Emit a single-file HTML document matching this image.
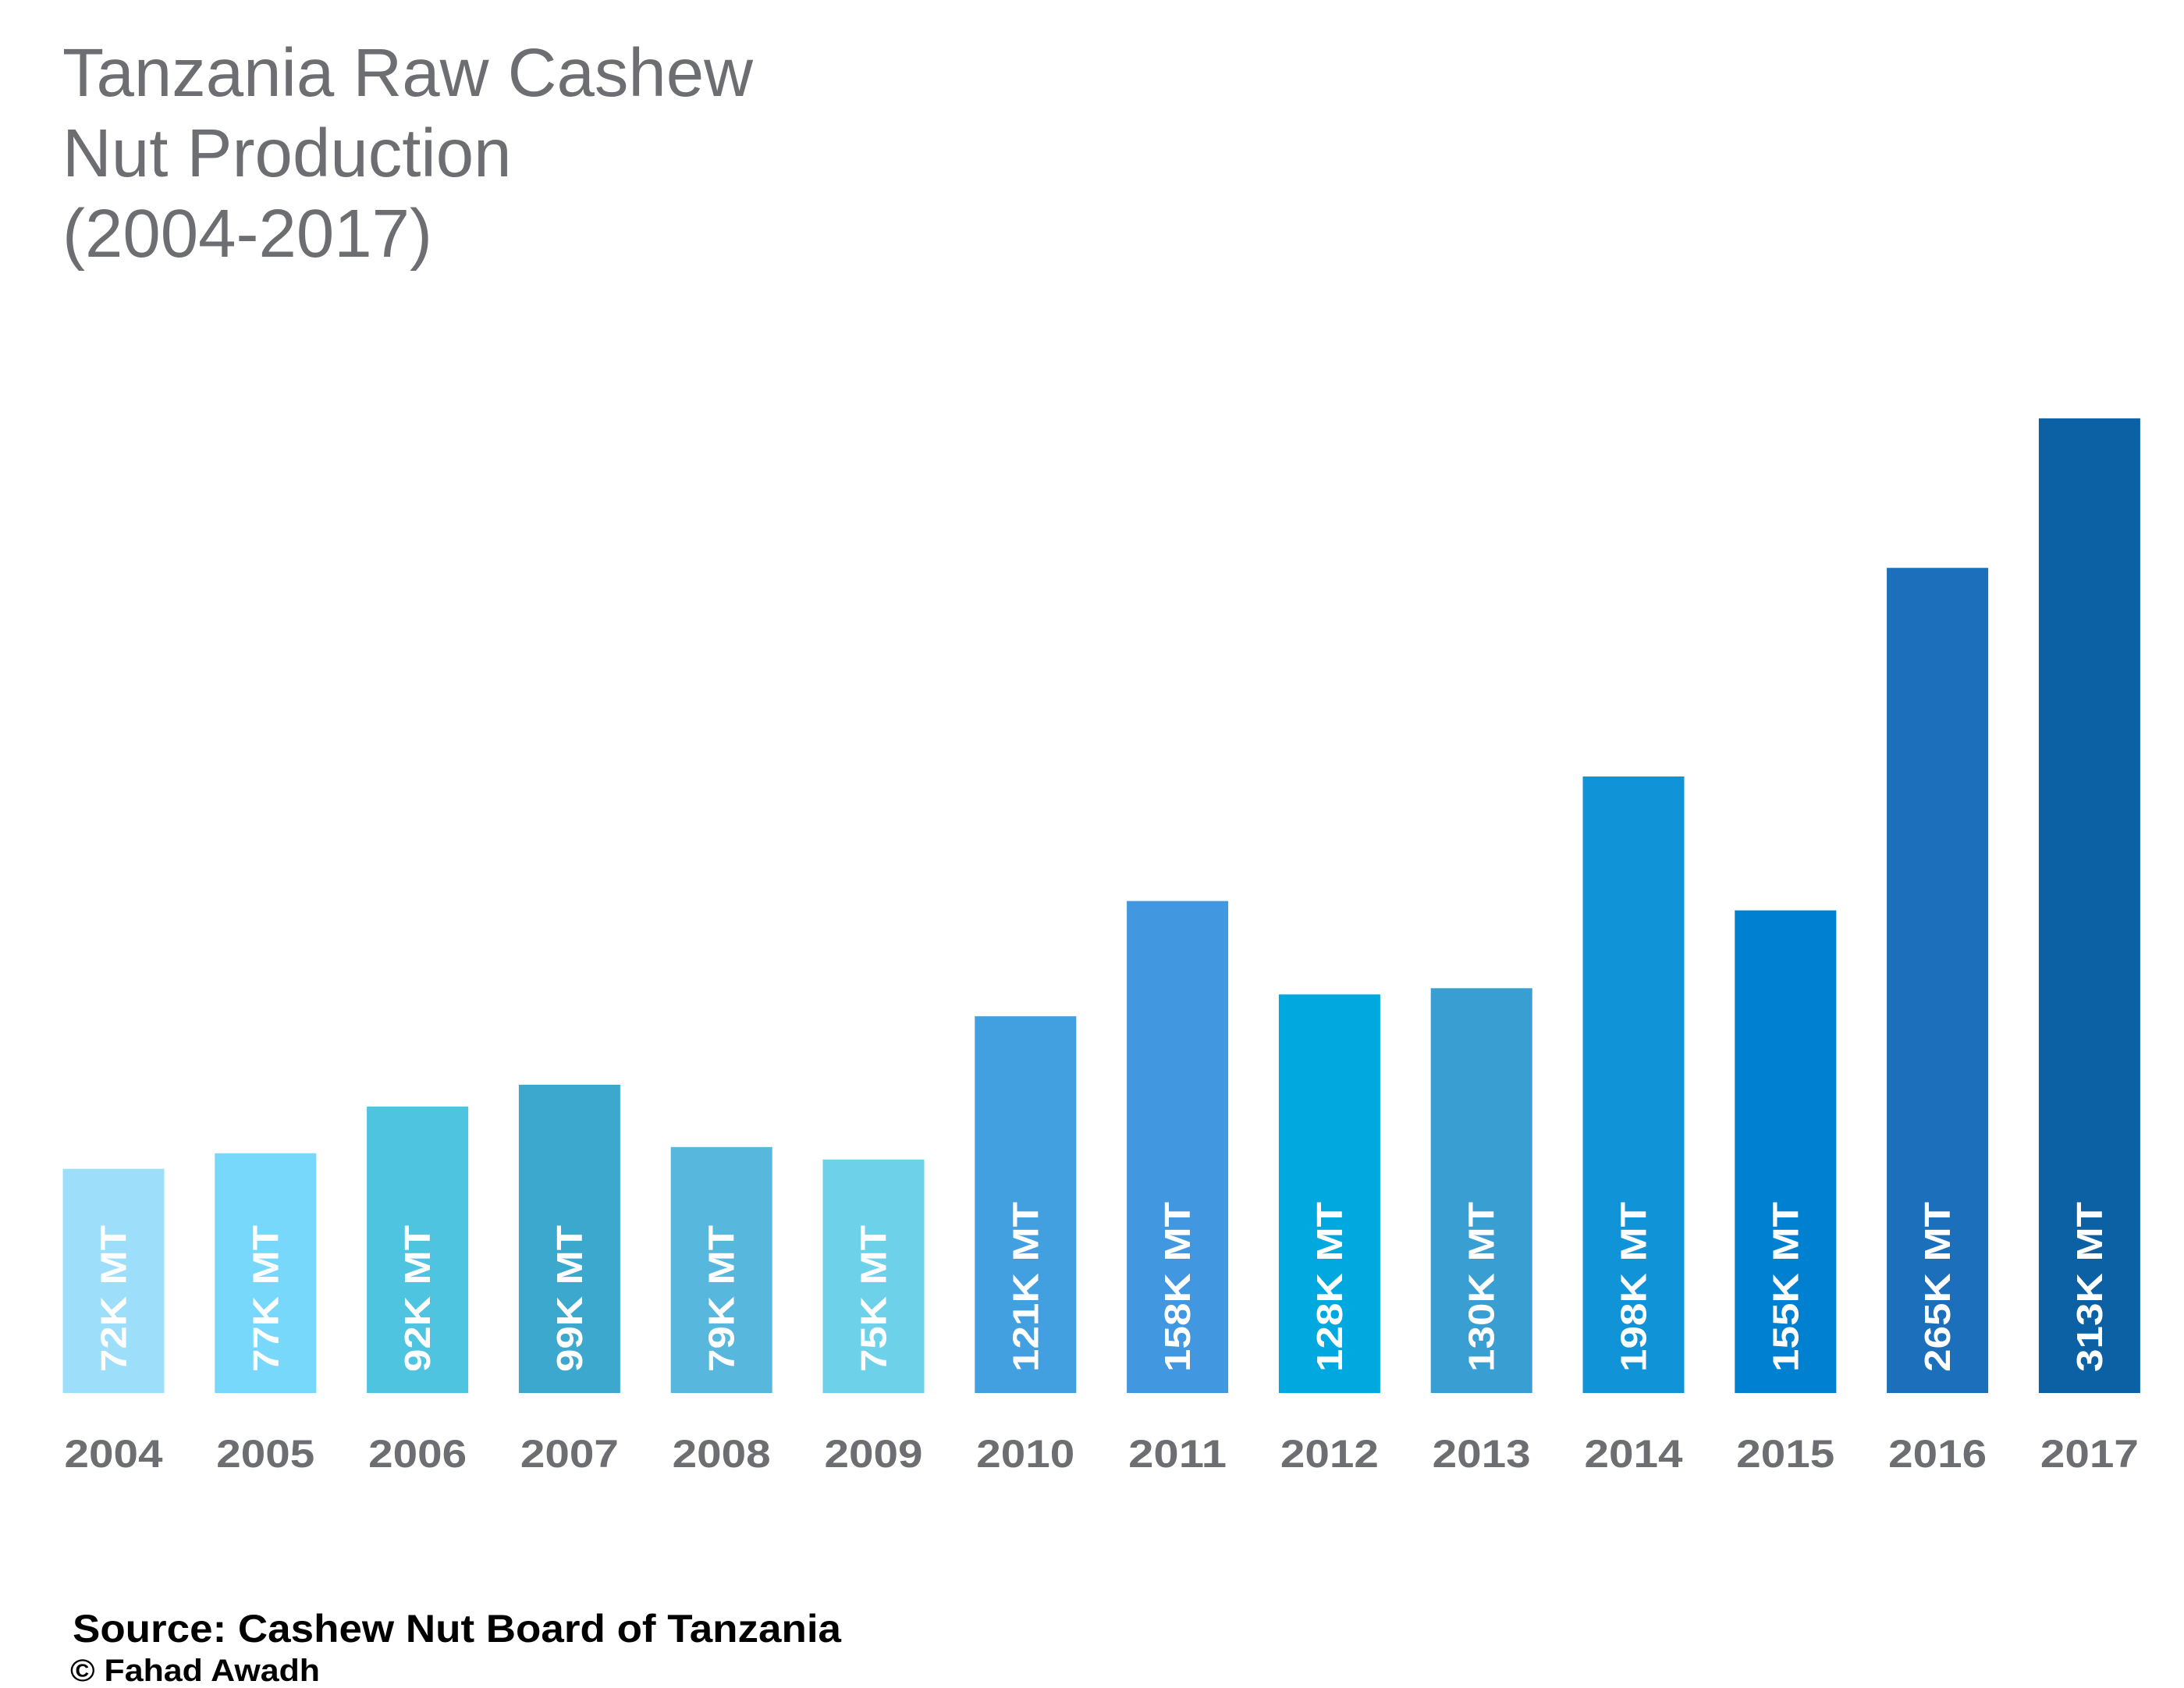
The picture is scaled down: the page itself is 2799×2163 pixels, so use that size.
<!DOCTYPE html>
<html><head><meta charset="utf-8"><style>
html,body{margin:0;padding:0;background:#fff;}
svg{display:block;}
</style></head><body>
<svg id="chart" width="2799" height="2163" viewBox="0 0 2799 2163" xmlns="http://www.w3.org/2000/svg">
<g font-family="Liberation Sans, sans-serif" font-size="87" fill="#6d6e71">
<text x="80" y="123">Tanzania Raw Cashew</text>
<text x="80" y="226">Nut Production</text>
<text x="80" y="329">(2004-2017)</text>
</g>
<g id="bars"></g>
<g id="labels"></g>
<text x="93" y="2104" font-family="Liberation Sans, sans-serif" font-weight="bold" font-size="50" fill="#000" textLength="985" lengthAdjust="spacingAndGlyphs">Source: Cashew Nut Board of Tanzania</text>
<text x="90" y="2154" font-family="Liberation Sans, sans-serif" font-weight="bold" font-size="40" fill="#000" textLength="320" lengthAdjust="spacingAndGlyphs">© Fahad Awadh</text>
</svg>
<script>
const years = ["2004","2005","2006","2007","2008","2009","2010","2011","2012","2013","2014","2015","2016","2017"];
const values = [72,77,92,99,79,75,121,158,128,130,198,155,265,313];
const valueLabels = ["72K MT","77K MT","92K MT","99K MT","79K MT","75K MT","121K MT","158K MT","128K MT","130K MT","198K MT","155K MT","265K MT","313K MT"];
const colors = ["#9ddffb","#78d8fb","#4ec4e0","#3da8ce","#58b7dd","#6dd1ea","#42a0e0","#4197e0","#00a8e0","#399ed2","#1193d8","#0080d0","#1b6fbb","#0c61a4"];
const NS="http://www.w3.org/2000/svg";
const baseY=1785, pxPerK=3.99, left=80.5, pitch=194.8, bw=130;
const xPos=i=>left+i*pitch;
const yPos=v=>baseY-v*pxPerK;
const bars=document.getElementById('bars'), labels=document.getElementById('labels');
years.forEach((yr,i)=>{
  const x=xPos(i), y=yPos(values[i]);
  const r=document.createElementNS(NS,'rect');
  r.setAttribute('x',x);r.setAttribute('y',y);r.setAttribute('width',bw);r.setAttribute('height',baseY-y);r.setAttribute('fill',colors[i]);
  
  
  bars.appendChild(r);
  const cx=x+bw/2;
  const t=document.createElementNS(NS,'text');
  t.setAttribute('transform','translate('+(cx+16)+','+(baseY-27)+') rotate(-90)');
  t.setAttribute('font-family','Liberation Sans, sans-serif');t.setAttribute('font-weight','bold');t.setAttribute('font-size','46');t.setAttribute('fill','#fff');
  t.setAttribute('textLength', valueLabels[i].length>6?218:188);t.setAttribute('lengthAdjust','spacingAndGlyphs');
  t.textContent=valueLabels[i];
  
  
  bars.appendChild(t);
  const l=document.createElementNS(NS,'text');
  l.setAttribute('x',cx);l.setAttribute('y',1880);l.setAttribute('text-anchor','middle');
  l.setAttribute('font-family','Liberation Sans, sans-serif');l.setAttribute('font-weight','bold');l.setAttribute('font-size','50');l.setAttribute('fill','#6d6e71');
  l.setAttribute('textLength','126');l.setAttribute('lengthAdjust','spacingAndGlyphs');
  l.textContent=yr;
  
  
  labels.appendChild(l);
});
</script>
</body></html>
